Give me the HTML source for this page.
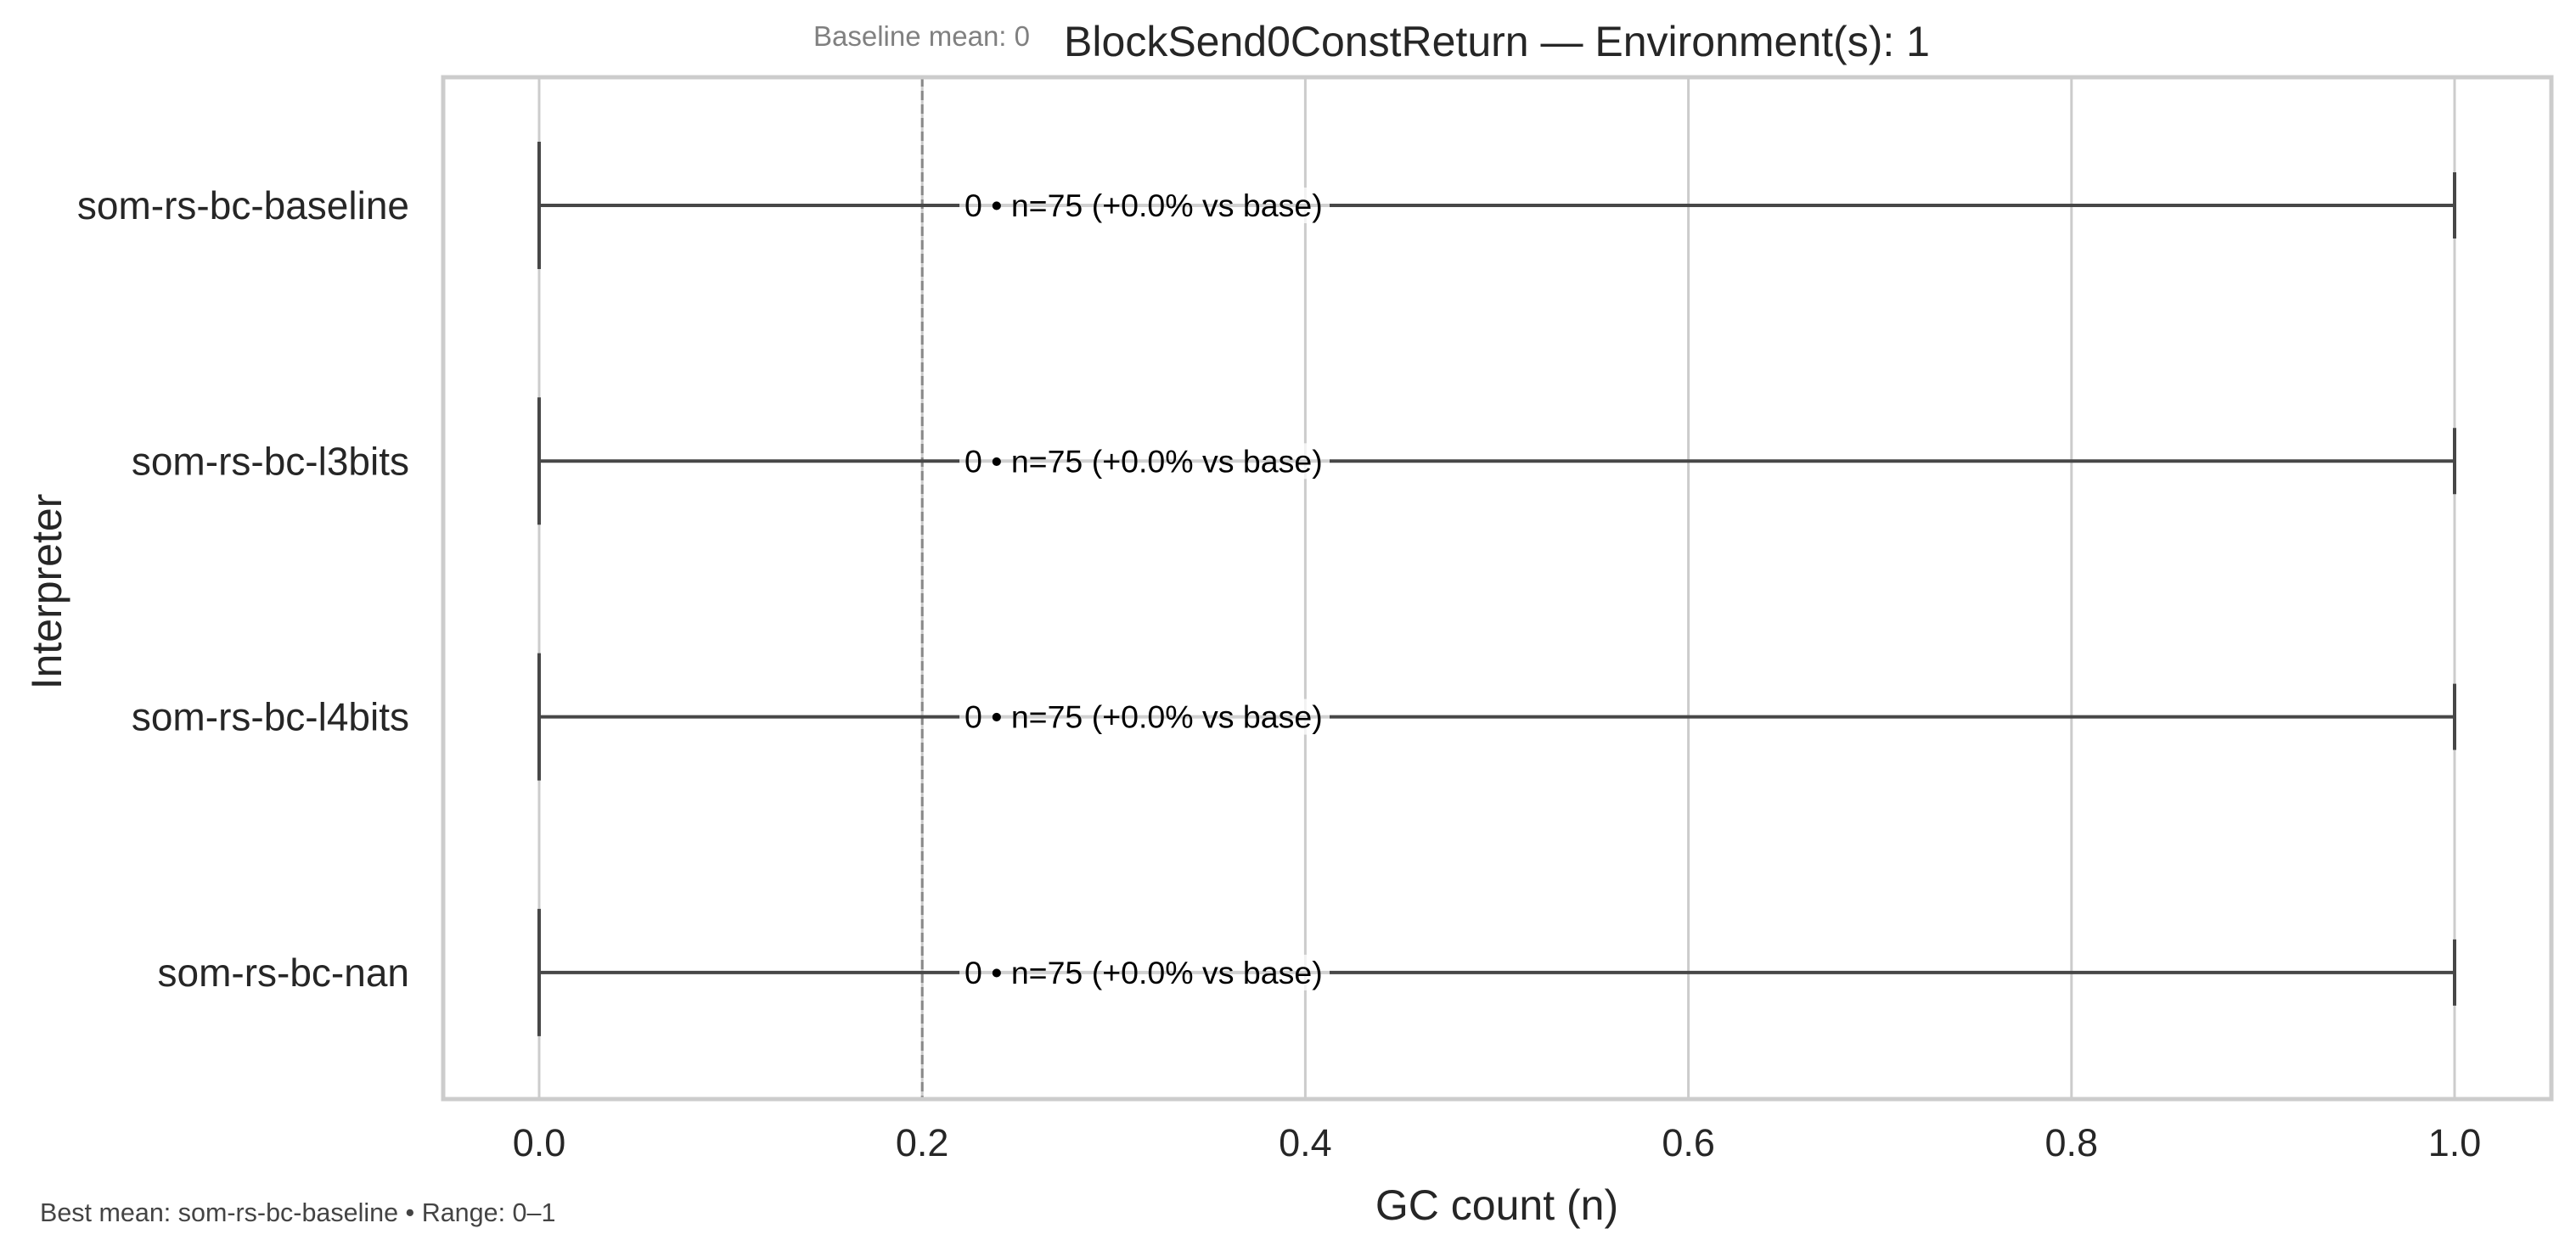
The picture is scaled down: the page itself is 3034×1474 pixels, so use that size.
<!DOCTYPE html>
<html><head><meta charset="utf-8"><style>
body{margin:0;background:#fff;}
svg{display:block;font-family:"Liberation Sans",Arial,sans-serif;}
</style></head><body>
<svg id="chart" width="3034" height="1474" viewBox="0 0 3034 1474">
<rect width="3034" height="1474" fill="#fff"/>
<g id="grid"></g>
<g id="marks"></g>
<rect x="522" y="91" width="2483" height="1204" fill="none" stroke="#cccccc" stroke-width="5"/>
<g id="labels"></g>
<text x="958" y="54" font-size="33" fill="#808080">Baseline mean: 0</text>
<text x="1763" y="66" font-size="50" fill="#262626" text-anchor="middle">BlockSend0ConstReturn — Environment(s): 1</text>
<text x="1763" y="1437" font-size="50" fill="#262626" text-anchor="middle">GC count (n)</text>
<text x="0" y="0" font-size="50" fill="#262626" text-anchor="middle" transform="translate(72,697) rotate(-90)">Interpreter</text>
<text x="47" y="1439" font-size="30.5" fill="#444">Best mean: som-rs-bc-baseline • Range: 0–1</text>
</svg>
<script>
const categories=["som-rs-bc-baseline","som-rs-bc-l3bits","som-rs-bc-l4bits","som-rs-bc-nan"];
const minVals=[0,0,0,0];
const maxVals=[1,1,1,1];
const annotations=["0 • n=75 (+0.0% vs base)","0 • n=75 (+0.0% vs base)","0 • n=75 (+0.0% vs base)","0 • n=75 (+0.0% vs base)"];
const xTicks=[0,0.2,0.4,0.6,0.8,1.0];
const xTickLabels=["0.0","0.2","0.4","0.6","0.8","1.0"];
const baselineRef=0.2;
const NS="http://www.w3.org/2000/svg";
const X=v=>635+v*2256;
const Y=i=>242+i*301.3;
function mk(tag,attrs,parent){const e=document.createElementNS(NS,tag);for(const k in attrs)e.setAttribute(k,attrs[k]);parent.appendChild(e);return e;}
const grid=document.getElementById('grid'),marks=document.getElementById('marks'),labels=document.getElementById('labels');
xTicks.forEach((t,i)=>{
  const l=mk('line',{x1:X(t),x2:X(t),y1:91,y2:1295,stroke:'#cccccc','stroke-width':3},grid);
  
  
  const tx=mk('text',{x:X(t),y:1362,'font-size':45,fill:'#262626','text-anchor':'middle'},labels);
  tx.textContent=xTickLabels[i];
  
  
});
const ref=mk('line',{x1:X(baselineRef),x2:X(baselineRef),y1:91,y2:1295,stroke:'#888','stroke-width':3,'stroke-dasharray':'11,5'},marks);


categories.forEach((c,i)=>{
  const y=Y(i);
  const w=mk('line',{x1:X(minVals[i]),x2:X(maxVals[i]),y1:y,y2:y,stroke:'#474747','stroke-width':4},marks);
  
  
  const c1=mk('line',{x1:X(minVals[i]),x2:X(minVals[i]),y1:y-75,y2:y+75,stroke:'#474747','stroke-width':4},marks);
  
  
  const c2=mk('line',{x1:X(maxVals[i]),x2:X(maxVals[i]),y1:y-39,y2:y+39,stroke:'#474747','stroke-width':4},marks);
  
  
  const bg=mk('rect',{x:1130,y:y-21,width:436,height:42,fill:'#fff','fill-opacity':0.75},marks);
  
  
  const a=mk('text',{x:1136,y:y+13,'font-size':37.5,fill:'#000'},marks);
  a.textContent=annotations[i];
  
  
  const lab=mk('text',{x:482,y:y+16,'font-size':46,fill:'#262626','text-anchor':'end'},labels);
  lab.textContent=c;
  
  
});
</script>
</body></html>
